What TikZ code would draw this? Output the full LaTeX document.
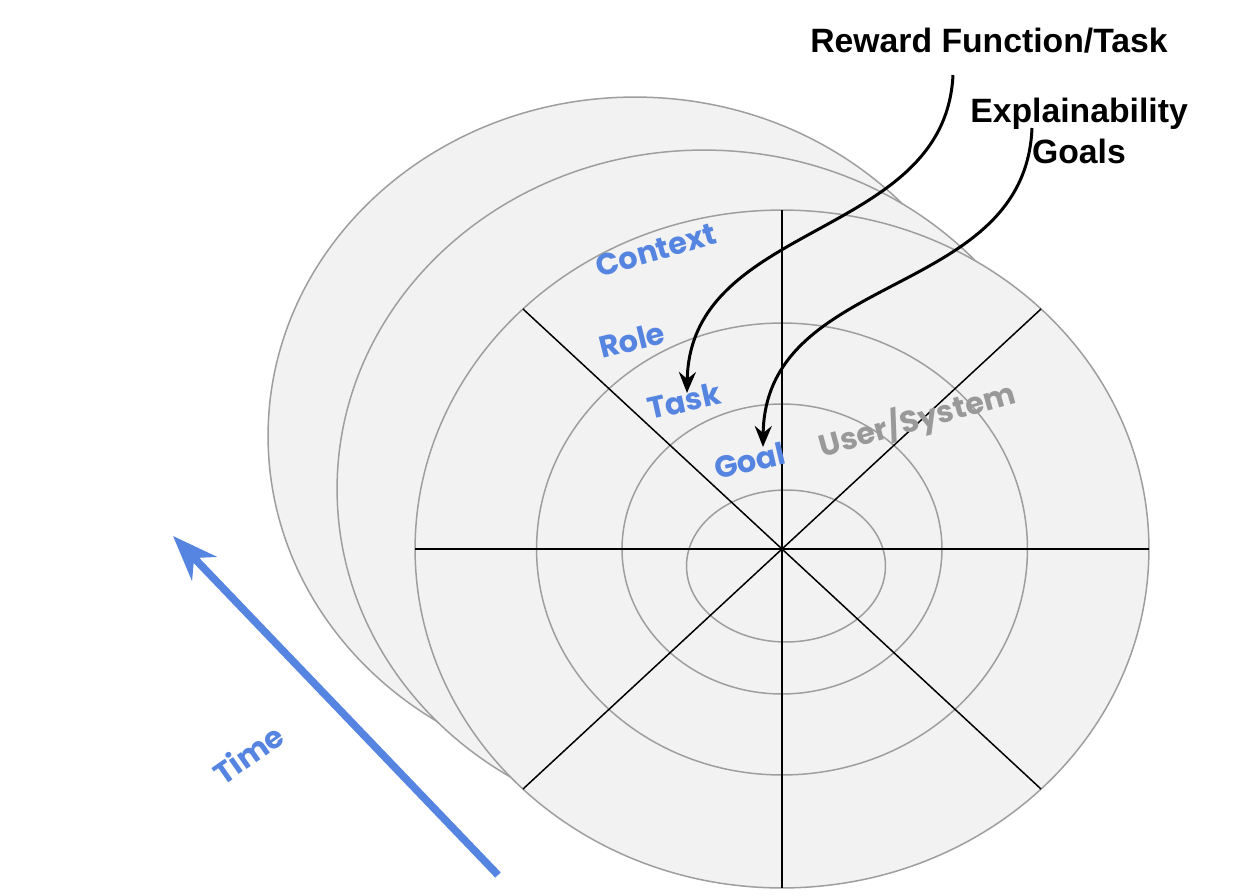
\documentclass[tikz,border=0pt]{standalone}
\usepackage{fontspec}
\setmainfont{Liberation Sans}
\newfontfamily\popfont{Poppins Bold}
\usetikzlibrary{arrows.meta}
\definecolor{ringfill}{HTML}{F2F2F2}
\definecolor{ringline}{HTML}{9E9E9E}
\definecolor{lblue}{HTML}{5585E0}
\definecolor{lgray}{HTML}{999999}
\tikzset{
  ring/.style={fill=ringfill, draw=ringline, line width=0.85pt},
  innerring/.style={draw=ringline, line width=0.85pt},
  spoke/.style={draw=black, line width=0.85pt},
  curvearrow/.style={draw=black, line width=1.7pt, -{Stealth[length=0.42cm, width=0.34cm, inset=0.14cm]}},
  timearrow/.style={draw=lblue, line width=4.3pt, -{Stealth[length=0.9cm, width=0.68cm, inset=0.29cm]}},
  lbl/.style={font=\popfont\fontsize{17.3}{20}\selectfont, text=lblue, inner sep=0pt},
  glbl/.style={font=\popfont\fontsize{17.3}{20}\selectfont, text=lgray, inner sep=0pt},
  blk/.style={font=\bfseries\fontsize{19.2}{23.6}\selectfont, text=black, inner sep=0pt, align=center},
}
\begin{document}
\begin{tikzpicture}[x=0.02cm, y=-0.02cm]
\useasboundingbox (0,0) rectangle (1242,896);
\fill[white] (0,0) rectangle (1242,896);

% back ellipses
\path[ring] (635,436) ellipse [x radius=7.34cm, y radius=6.78cm];
\path[ring] (704,489) ellipse [x radius=7.34cm, y radius=6.78cm];
% front ellipse and rings
\coordinate (c) at (782,549);
\coordinate (cin) at (786,566);
\path[ring] (c) ellipse [x radius=7.34cm, y radius=6.78cm];
\path[innerring] (c) ellipse [x radius=4.91cm, y radius=4.52cm];
\path[innerring] (c) ellipse [x radius=3.2cm, y radius=2.9cm];
\path[innerring] (cin) ellipse [x radius=1.99cm, y radius=1.52cm];

% spokes
\coordinate (sw) at (415,549);
\coordinate (se) at (1149,549);
\coordinate (sn) at (782,210);
\coordinate (ss) at (782,888);
\coordinate (snw) at (523,309);
\coordinate (sse) at (1041,789);
\coordinate (sne) at (1041,309);
\coordinate (ssw) at (523,789);
\path[spoke] (sw) -- (se);
\path[spoke] (sn) -- (ss);
\path[spoke] (snw) -- (sse);
\path[spoke] (sne) -- (ssw);

% labels
\node[lbl, rotate=16] (context) at (656,250) {Context};
\node[lbl, rotate=14] (role) at (632,340) {Role};
\node[lbl, rotate=12.5] (task) at (684,401) {Task};
\node[lbl, rotate=13] (goal) at (750,461) {Goal};
\node[glbl, rotate=15.5] (usersys) at (917,420) {User/System};
\node[lbl, rotate=35] (time) at (248,754) {Time};

% top texts
\node[blk] (reward) at (989,41) {Reward Function/Task};
\node[blk] (explain) at (1079,131) {Explainability\\Goals};

% curved arrows
\coordinate (r0) at (953,75);
\coordinate (r1) at (687,393);
\draw[curvearrow] (r0) .. controls (945,240) and (690,220) .. (r1);
\coordinate (e0) at (1032,128);
\coordinate (e1) at (763,447);
\draw[curvearrow] (e0) .. controls (1025,300) and (765,270) .. (e1);

% time arrow
\coordinate (t0) at (498,875);
\coordinate (t1) at (173,536);
\draw[timearrow] (t0) -- (t1);
\end{tikzpicture}
\end{document}
